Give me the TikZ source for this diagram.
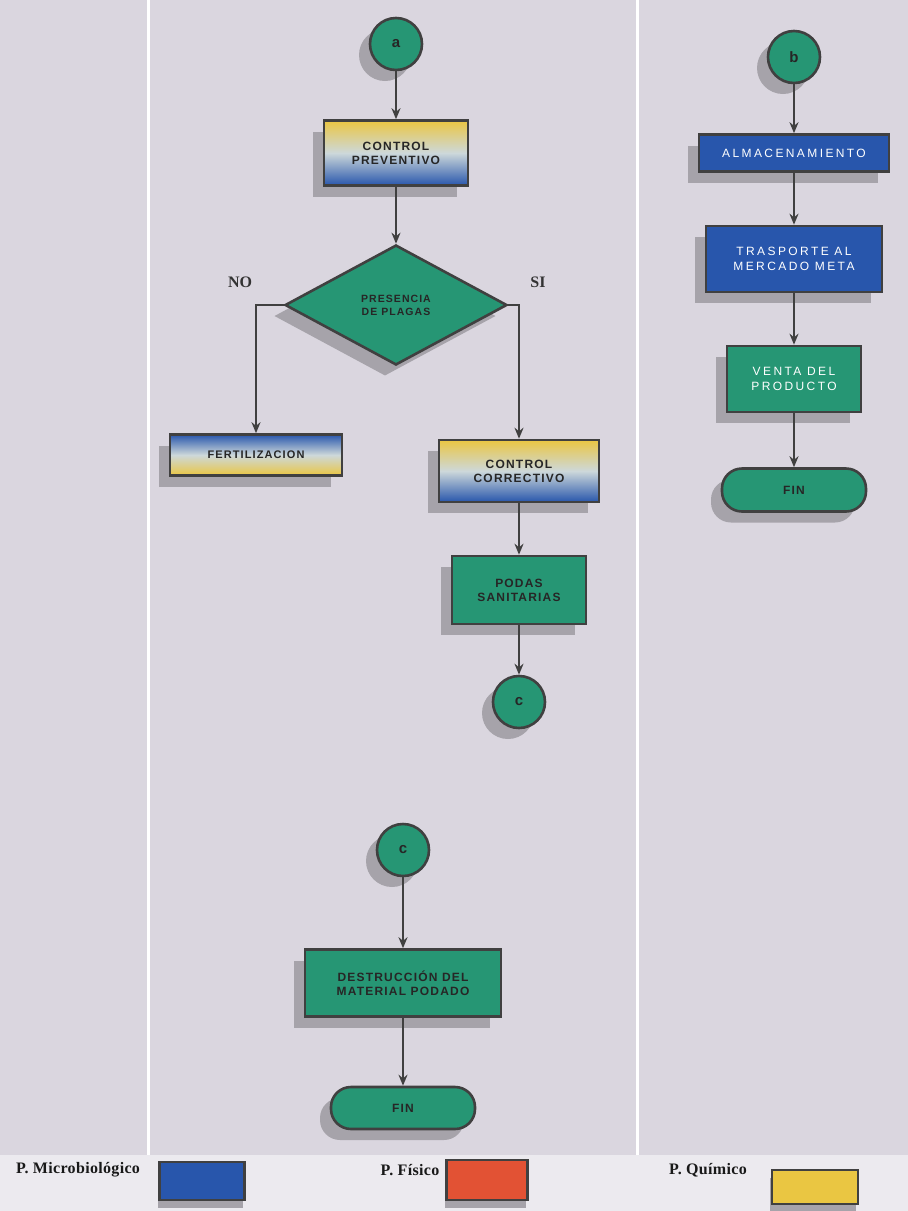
\documentclass[tikz,border=0pt]{standalone}
\usepackage{fontspec}
\setmainfont{Liberation Serif}
\newfontfamily\boxfont{Liberation Sans}[LetterSpace=10]
\newfontfamily\wideboxfont{Liberation Sans}[LetterSpace=20]
\newfontfamily\legendfont{Liberation Serif}[LetterSpace=2]
\usetikzlibrary{shapes.geometric, positioning, arrows.meta, shadows}

\definecolor{bgcol}{RGB}{218,214,223}
\definecolor{stripcol}{RGB}{236,234,239}
\definecolor{flowgreen}{RGB}{38,150,116}
\definecolor{flowblue}{RGB}{40,86,172}
\definecolor{flowyellow}{RGB}{234,198,66}
\definecolor{flowred}{RGB}{226,82,52}
\definecolor{flowmid}{RGB}{205,216,218}
\definecolor{shadowgray}{RGB}{166,163,170}

\begin{document}
\begin{tikzpicture}
	[x=1pt, y=-1pt, on grid, node distance=100pt,
	 >={Stealth[length=11pt,width=9pt]},
	 base/.style={draw=black!75, line width=2.6pt, align=center, inner sep=0pt,
	   drop shadow={shadow xshift=-11pt, shadow yshift=-11pt, fill=shadowgray, opacity=1},
	   text=black!85, font=\boxfont\bfseries\fontsize{12}{14}\selectfont},
	 proc/.style={base, rectangle, fill=flowgreen},
	 lightproc/.style={proc, text=white, font=\wideboxfont\fontsize{12}{15}\selectfont},
	 micro/.style={base, rectangle, fill=flowblue, text=white, font=\wideboxfont\fontsize{12}{15}\selectfont},
	 mixed/.style={base, rectangle, top color=flowyellow, bottom color=flowblue, middle color=flowmid},
	 mixedup/.style={base, rectangle, top color=flowblue, bottom color=flowyellow, middle color=flowmid},
	 decision/.style={base, diamond, fill=flowgreen, aspect=1.85, font=\boxfont\bfseries\fontsize{10.5}{13}\selectfont},
	 conn/.style={base, circle, fill=flowgreen, minimum size=52pt, font=\boxfont\bfseries\fontsize{15}{15}\selectfont},
	 term/.style={base, rectangle, rounded corners=20pt, fill=flowgreen, minimum width=144pt, minimum height=42pt},
	 key/.style={draw=black!75, line width=2.6pt, drop shadow={shadow xshift=-2pt, shadow yshift=-8pt, fill=shadowgray, opacity=1}},
	 answer/.style={text=black!80, font=\bfseries\fontsize{16}{18}\selectfont},
	 legend/.style={text=black!90, font=\legendfont\bfseries\fontsize{16}{18}\selectfont},
	 flow/.style={->, draw=black!75, line width=2.8pt}]

   % background and column rules
   \useasboundingbox (0,0) rectangle (908,1211);
   \fill[bgcol] (0,0) rectangle (908,1155);
   \fill[stripcol] (0,1155) rectangle (908,1211);
   \draw[white, line width=3pt] (148,0) -- (148,1155);
   \draw[white, line width=3pt] (637,0) -- (637,1155);

   % middle column
   \node[conn] (a) at (396,44) {a};
   \node[mixed, minimum width=144pt, minimum height=65pt] (prev) [below=109pt of a] {CONTROL\\PREVENTIVO};
   \node[decision, minimum width=222pt, minimum height=120pt] (dec) [below=152pt of prev] {PRESENCIA\\DE PLAGAS};
   \node[answer] (lblno) at (240,282) {NO};
   \node[answer] (lblsi) at (538,282) {SI};
   \node[mixedup, minimum width=172pt, minimum height=41pt, font=\boxfont\bfseries\fontsize{11}{13}\selectfont] (fert) at (256,455) {FERTILIZACION};
   \node[mixed, minimum width=160pt, minimum height=62pt] (corr) at (519,471) {CONTROL\\CORRECTIVO};
   \node[proc, minimum width=134pt, minimum height=68pt] (podas) [below=119pt of corr] {PODAS\\SANITARIAS};
   \node[conn] (c1) [below=112pt of podas] {c};

   \node[conn] (c2) at (403,850) {c};
   \node[proc, minimum width=196pt, minimum height=67pt] (destr) [below=133pt of c2] {DESTRUCCIÓN DEL\\MATERIAL PODADO};
   \node[term] (fin1) [below=125pt of destr] {FIN};

   % right column
   \node[conn] (b) at (794,57) {b};
   \node[micro, minimum width=190pt, minimum height=37pt] (alm) [below=96pt of b] {ALMACENAMIENTO};
   \node[micro, minimum width=176pt, minimum height=66pt] (tras) [below=106pt of alm] {TRASPORTE AL\\MERCADO META};
   \node[lightproc, minimum width=134pt, minimum height=66pt] (venta) [below=120pt of tras] {VENTA DEL\\PRODUCTO};
   \node[term, minimum height=43pt] (fin2) [below=111pt of venta] {FIN};

   % legend
   \node[legend] (lmicro) at (78,1170) {P. Microbiológico};
   \node[key, fill=flowblue, minimum width=85pt, minimum height=38pt] (kmicro) at (202,1181) {};
   \node[legend] (lfis) at (410,1170) {P. Físico};
   \node[key, fill=flowred, minimum width=81pt, minimum height=40pt] (kfis) at (487,1180) {};
   \node[legend] (lqui) at (708,1170) {P. Químico};
   \node[key, fill=flowyellow, minimum width=86pt, minimum height=34pt] (kqui) at (815,1187) {};

   \path[flow]
    (a) edge (prev)
    (prev) edge (dec)
    (corr) edge (podas)
    (podas) edge (c1)
    (c2) edge (destr)
    (destr) edge (fin1)
    (b) edge (alm)
    (alm) edge (tras)
    (tras) edge (venta)
    (venta) edge (fin2);
   \draw[flow] (dec.west) -| (fert);
   \draw[flow] (dec.east) -| (corr);

\end{tikzpicture}
\end{document}
